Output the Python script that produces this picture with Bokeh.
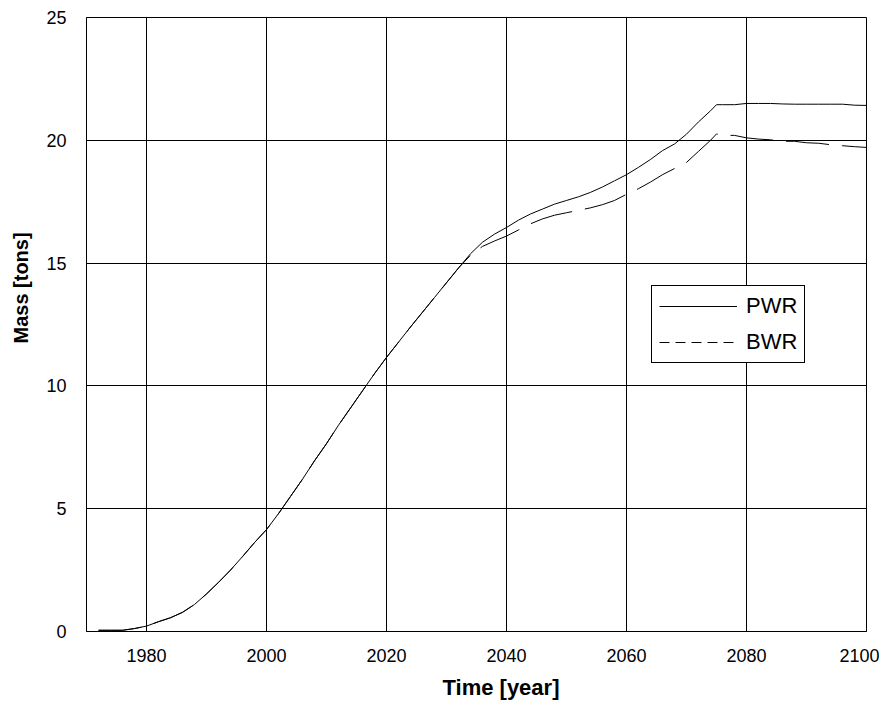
from bokeh.plotting import figure
from bokeh.models import Range1d, FixedTicker, Legend, LegendItem, Title
from bokeh.embed import file_html
from bokeh.resources import INLINE

# ---- data ----
years = [1972, 1974, 1976, 1978, 1980, 1982, 1984, 1986, 1988, 1990,
         1992, 1994, 1996, 1998, 2000, 2002, 2004, 2006, 2008, 2010,
         2012, 2014, 2016, 2018, 2020, 2022, 2024, 2026, 2028, 2030,
         2032, 2034, 2036, 2038, 2040, 2042, 2044, 2046, 2048, 2050,
         2052, 2054, 2056, 2058, 2060, 2062, 2064, 2066, 2068, 2070,
         2072, 2074, 2075, 2076, 2078, 2080, 2082, 2084, 2086, 2088,
         2090, 2092, 2094, 2096, 2098, 2100]

pwr = [0.05, 0.05, 0.05, 0.12, 0.22, 0.40, 0.56, 0.78, 1.10, 1.53,
       2.00, 2.50, 3.05, 3.62, 4.15, 4.80, 5.50, 6.20, 6.95, 7.65,
       8.40, 9.10, 9.80, 10.50, 11.16, 11.78, 12.40, 13.00, 13.60, 14.20,
       14.80, 15.38, 15.85, 16.18, 16.45, 16.75, 17.00, 17.20, 17.40, 17.55,
       17.70, 17.88, 18.10, 18.35, 18.60, 18.90, 19.22, 19.58, 19.85, 20.25,
       20.75, 21.20, 21.45, 21.45, 21.45, 21.50, 21.50, 21.50, 21.48, 21.47,
       21.47, 21.47, 21.47, 21.47, 21.43, 21.42]

bwr = [0.05, 0.05, 0.05, 0.12, 0.22, 0.40, 0.56, 0.78, 1.10, 1.53,
       2.00, 2.50, 3.05, 3.62, 4.15, 4.80, 5.50, 6.20, 6.95, 7.65,
       8.40, 9.10, 9.80, 10.50, 11.16, 11.78, 12.40, 13.00, 13.60, 14.20,
       14.80, 15.32, 15.68, 15.90, 16.10, 16.35, 16.60, 16.80, 16.95, 17.05,
       17.15, 17.25, 17.38, 17.55, 17.80, 18.03, 18.30, 18.60, 18.85, 19.10,
       19.55, 20.00, 20.26, 20.20, 20.20, 20.10, 20.05, 20.02, 19.96, 19.96,
       19.90, 19.88, 19.82, 19.78, 19.74, 19.71]

x_ticks = [1980, 2000, 2020, 2040, 2060, 2080, 2100]
y_ticks = [0, 5, 10, 15, 20, 25]
series_names = ["PWR", "BWR"]
x_title = "Time [year]"
y_title = "Mass [tons]"

FONT = "Liberation Sans"
NAN = float("nan")

p = figure(width=879, height=708, output_backend="svg", toolbar_location=None,
           x_range=Range1d(1970, 2100), y_range=Range1d(0, 25),
           min_border_left=86, min_border_right=13, min_border_top=17,
           min_border_bottom=77)

p.background_fill_color = "white"
p.border_fill_color = "white"
p.outline_line_color = "black"
p.outline_line_width = 1
p.outline_line_alpha = 1

p.xaxis.ticker = FixedTicker(ticks=x_ticks)
p.yaxis.ticker = FixedTicker(ticks=y_ticks)
for ax in (p.xaxis, p.yaxis):
    ax.major_tick_in = 0
    ax.major_tick_out = 0
    ax.minor_tick_in = 0
    ax.minor_tick_out = 0
    ax.axis_line_color = "black"
    ax.major_label_text_font = FONT
    ax.major_label_text_font_size = "18px"
    ax.major_label_text_color = "black"
p.xaxis.major_label_standoff = 17
p.yaxis.major_label_standoff = 20

p.xgrid.grid_line_color = "black"
p.ygrid.grid_line_color = "black"
p.xgrid.grid_line_width = 1
p.ygrid.grid_line_width = 1
p.xgrid.grid_line_alpha = 1
p.ygrid.grid_line_alpha = 1

p.line(years, pwr, line_color="black", line_width=1)
p.line(years, bwr, line_color="black", line_width=1, line_dash="43 13")

# legend proxies (no visible data)
lp = p.line([NAN], [NAN], line_color="black", line_width=1)
lb = p.line([NAN], [NAN], line_color="black", line_width=1, line_dash="10 6")
legend = Legend(items=[LegendItem(label=series_names[0], renderers=[lp]),
                       LegendItem(label=series_names[1], renderers=[lb])],
                location=(565, 268), orientation="vertical",
                label_text_font=FONT, label_text_font_size="22px",
                label_text_color="black",
                border_line_color="black", border_line_width=1,
                border_line_alpha=1,
                background_fill_color="white", background_fill_alpha=1,
                glyph_width=78, glyph_height=20, label_standoff=9,
                padding=7, spacing=10, margin=0, label_height=25)
p.add_layout(legend)

p.add_layout(Title(text=x_title, align="left", offset=356, standoff=17,
                   vertical_align="bottom",
                   text_font=FONT, text_font_size="22px", text_font_style="bold",
                   text_color="black"), "below")
p.add_layout(Title(text=y_title, align="left", offset=288, standoff=19,
                   vertical_align="top",
                   text_font=FONT, text_font_size="20px", text_font_style="bold",
                   text_color="black"), "left")

open("out.html", "w").write(file_html(p, INLINE))
